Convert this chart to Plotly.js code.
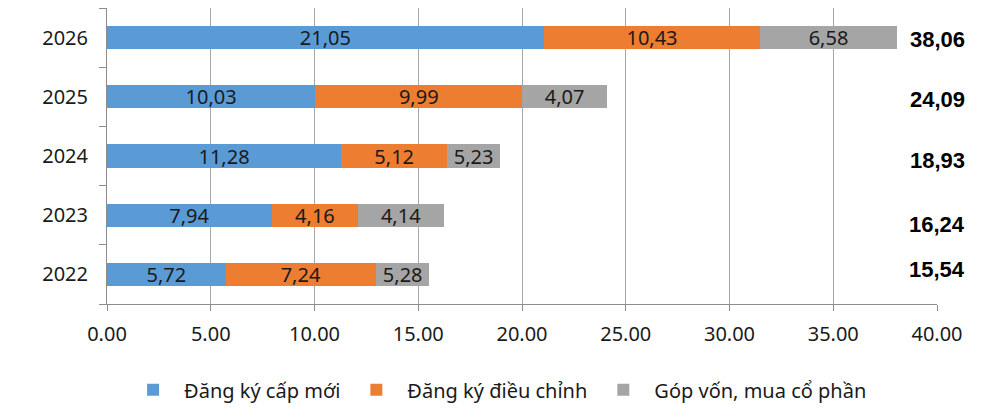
<!DOCTYPE html>
<html>
<head>
<meta charset="utf-8">
<script src="https://cdn.plot.ly/plotly-3.0.1.min.js"></script>
<style>html,body{margin:0;padding:0;background:#fff;}#chart{width:1000px;height:418px;}</style>
</head>
<body>
<div id="chart"></div>
<script>
// Data (bottom to top)
const years = ['2022', '2023', '2024', '2025', '2026'];
const seriesNames = ['Đăng ký cấp mới', 'Đăng ký điều chỉnh', 'Góp vốn, mua cổ phần'];
const newReg = [5.72, 7.94, 11.28, 10.03, 21.05];
const adjReg = [7.24, 4.16, 5.12, 9.99, 10.43];
const capital = [2.58, 4.14, 2.53, 4.07, 6.58];          // bar lengths as drawn
const capitalLabels = ['5,28', '4,14', '5,23', '4,07', '6,58']; // labels as printed
const totals = ['15,54', '16,24', '18,93', '24,09', '38,06'];
const xTicks = [0, 5, 10, 15, 20, 25, 30, 35, 40];

const fmt = v => v.toFixed(2).replace('.', ',');
const colors = ['#5B9BD5', '#ED7D31', '#A5A5A5'];
const labelFont = {family: 'Noto Sans, sans-serif', size: 20, color: '#1a1a1a'};

function mk(name, vals, text, color) {
  return {
    type: 'bar', orientation: 'h', name: name,
    y: years, x: vals, text: text,
    textposition: 'inside', insidetextanchor: 'middle', textangle: 0,
    textfont: labelFont, insidetextfont: labelFont, constraintext: 'none',
    marker: {color: color, line: {width: 0}},
    hoverinfo: 'x+name'
  };
}

const data = [
  mk(seriesNames[0], newReg, newReg.map(fmt), colors[0]),
  mk(seriesNames[1], adjReg, adjReg.map(fmt), colors[1]),
  mk(seriesNames[2], capital, capitalLabels, colors[2])
];

const totalShift = [5, -9, -4, -3, -2];
const annotations = years.map((y, i) => ({
  x: 40, y: i, xref: 'x', yref: 'y', text: '<b>' + totals[i] + '</b>',
  showarrow: false, xanchor: 'center', yanchor: 'middle', yshift: totalShift[i],
  font: {family: 'Liberation Sans, Arial, sans-serif', size: 22, color: '#000'}
}));

const layout = {
  width: 1000, height: 418,
  margin: {l: 107, r: 63, t: 8, b: 114},
  barmode: 'stack', bargap: 0.61,
  paper_bgcolor: '#fff', plot_bgcolor: '#fff',
  font: {family: 'Noto Sans, sans-serif', size: 20, color: '#1a1a1a'},
  showlegend: true,
  legend: {orientation: 'h', x: 0.47, xanchor: 'center', y: -0.29, yanchor: 'middle',
           itemwidth: 52,
           font: {family: 'Noto Sans, sans-serif', size: 20, color: '#1a1a1a'},
           traceorder: 'normal'},
  xaxis: {
    range: [0, 40], tickvals: xTicks, tickformat: '.2f',
    showgrid: true, gridcolor: '#a6a6a6', gridwidth: 1, zeroline: false,
    showline: true, linecolor: '#8c8c8c', linewidth: 1,
    ticks: 'outside', ticklen: 6, tickcolor: '#8c8c8c',
    tickfont: {family: 'Noto Sans, sans-serif', size: 20, color: '#1a1a1a'},
    ticklabelstandoff: 6,
    fixedrange: true
  },
  yaxis: {
    type: 'category', categoryorder: 'array', categoryarray: years,
    range: [-0.5, 4.5], autorange: false,
    showgrid: false, zeroline: false,
    showline: true, linecolor: '#8c8c8c', linewidth: 1,
    ticks: 'outside', tickson: 'boundaries', ticklen: 7, tickcolor: '#8c8c8c',
    tickfont: {family: 'Noto Sans, sans-serif', size: 20, color: '#1a1a1a'},
    ticklabelstandoff: 14,
    fixedrange: true
  },
  annotations: annotations
};

Plotly.newPlot('chart', data, layout, {displayModeBar: false, staticPlot: true});
</script>
</body>
</html>
